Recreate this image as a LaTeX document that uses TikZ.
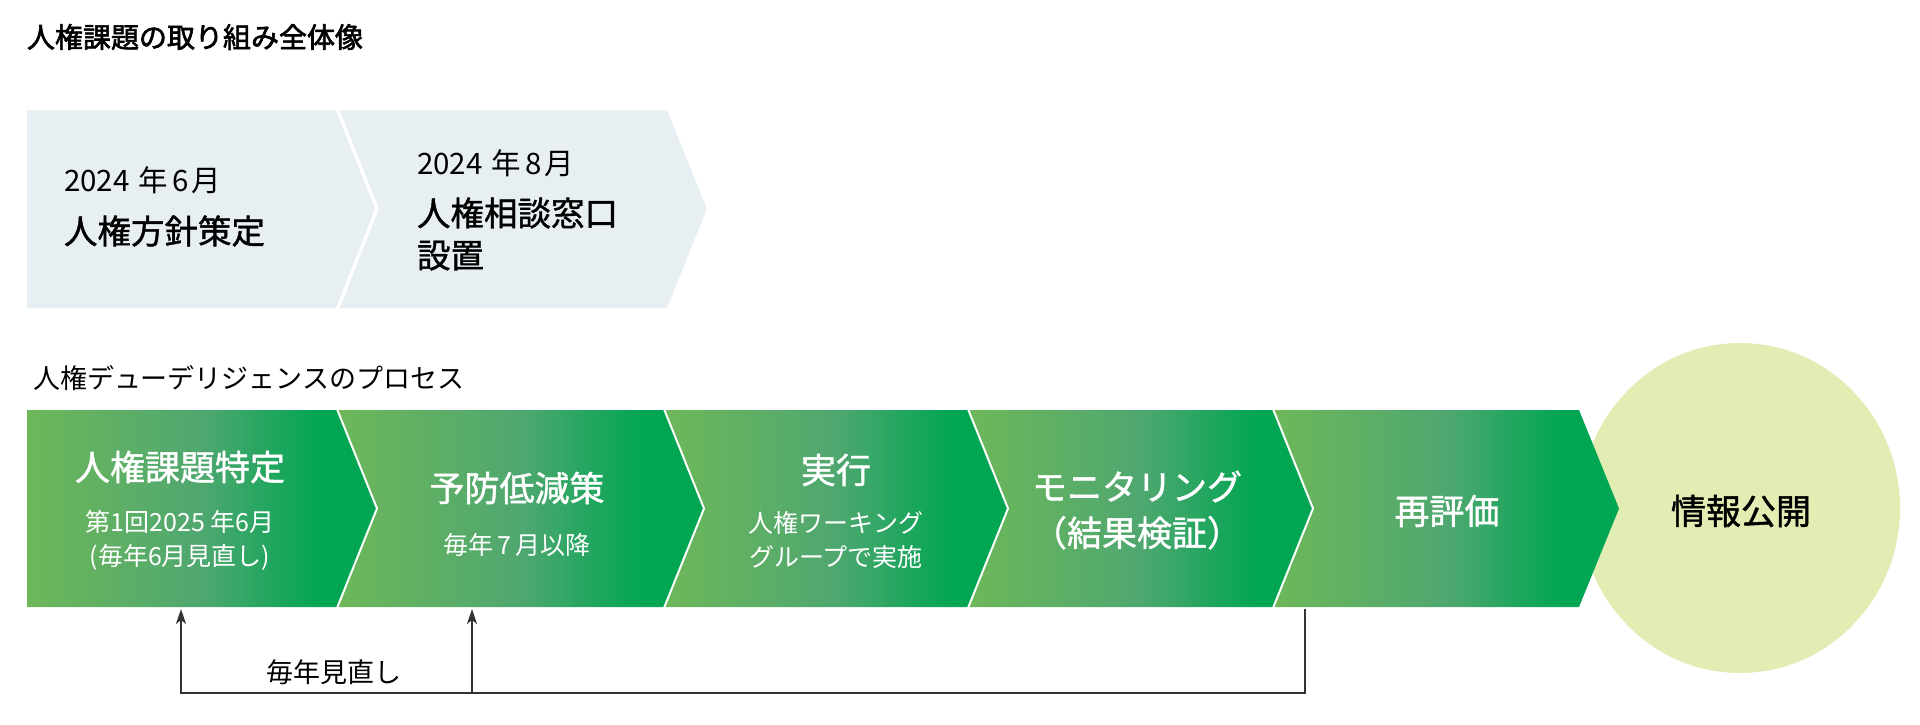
\documentclass[tikz,border=0pt]{standalone}
\usepackage{fontspec}
\setmainfont{Noto Sans CJK JP}
\newfontfamily\jpmed[FakeBold=1.2]{Noto Sans CJK JP}
\newfontfamily\jpbold[FakeBold=2.2]{Noto Sans CJK JP}
\usetikzlibrary{arrows.meta}
\definecolor{boxgray}{HTML}{E8EFF3}
\definecolor{circfill}{HTML}{E2EDB3}
\definecolor{lineg}{HTML}{333333}
\pgfdeclarehorizontalshading{chevshade}{100bp}{rgb(0bp)=(0.43,0.72,0.35); rgb(25bp)=(0.43,0.72,0.35); rgb(50bp)=(0.31,0.655,0.44); rgb(67bp)=(0,0.65,0.32); rgb(100bp)=(0,0.65,0.32)}
\begin{document}
\begin{tikzpicture}[x=1pt,y=-1pt,
  every node/.style={inner sep=0pt, outer sep=0pt},
  headtxt/.style={anchor=west, font=\jpbold\fontsize{28}{32}\selectfont},
  lbltxt/.style={anchor=west, font=\fontsize{27}{32}\selectfont},
  datetxt/.style={anchor=west, font=\fontsize{29.5}{32}\selectfont},
  boxtitle/.style={anchor=west, align=left, font=\jpmed\fontsize{33.5}{42}\selectfont},
  ctitle/.style={text=white, align=center, font=\jpmed\fontsize{35}{46}\selectfont},
  csub/.style={text=white, align=center, font=\fontsize{25}{34}\selectfont},
  chev/.style={shading=chevshade},
  sep/.style={draw=white, line width=2pt},
  fb/.style={draw=lineg, line width=1.4pt},
  fbarrow/.style={fb, -{Stealth[length=15pt,width=10pt,inset=4pt]}}
]
\useasboundingbox (0,0) rectangle (1920,724);

% title
\node[headtxt] (title) at (27,37) {人権課題の取り組み全体像};

% top boxes
\fill[boxgray] (27,110) -- (337,110) -- (377,209) -- (337,308) -- (27,308) -- cycle;
\fill[boxgray] (337,110) -- (667,110) -- (707,209) -- (667,308) -- (337,308) -- (377,209) -- cycle;
\draw[draw=white, line width=3.5pt] (337,108) -- (377,209) -- (337,310);

\node[datetxt] (d1) at (64,180) {2024\hspace{0.3em}年\hspace{0.15em}6\hspace{0.1em}月};
\node[boxtitle] (b1) at (64,231) {人権方針策定};
\node[datetxt] (d2) at (417,163) {2024\hspace{0.3em}年\hspace{0.15em}8\hspace{0.1em}月};
\node[boxtitle] (b2) at (417,234) {人権相談窓口\\設置};

% process label
\node[lbltxt] (proc) at (33,378) {人権デューデリジェンスのプロセス};

% circle
\fill[circfill] (1740,508) ellipse [x radius=160, y radius=165];

% chevrons
\shade[chev] (27,410) -- (337,410) -- (377,508.5) -- (337,607) -- (27,607) -- cycle;
\shade[chev] (337,410) -- (664,410) -- (704,508.5) -- (664,607) -- (337,607) -- (377,508.5) -- cycle;
\shade[chev] (664,410) -- (968,410) -- (1008,508.5) -- (968,607) -- (664,607) -- (704,508.5) -- cycle;
\shade[chev] (968,410) -- (1273,410) -- (1313,508.5) -- (1273,607) -- (968,607) -- (1008,508.5) -- cycle;
\shade[chev] (1273,410) -- (1579,410) -- (1619,508.5) -- (1579,607) -- (1273,607) -- (1313,508.5) -- cycle;
\draw[sep] (337,409) -- (377,508.5) -- (337,608);
\draw[sep] (664,409) -- (704,508.5) -- (664,608);
\draw[sep] (968,409) -- (1008,508.5) -- (968,608);
\draw[sep] (1273,409) -- (1313,508.5) -- (1273,608);

% chevron texts
\node[ctitle] (t1) at (180,467) {人権課題特定};
\node[csub] (s1) at (180,540) {第1回2025\hspace{0.2em}年6月\\(毎年6月見直し)};
\node[ctitle] (t2) at (517,488) {予防低減策};
\node[csub] (s2) at (517,545) {毎年\hspace{0.15em}7\hspace{0.15em}月以降};
\node[ctitle] (t3) at (836,470) {実行};
\node[csub] (s3) at (836,540) {人権ワーキング\\グループで実施};
\node[ctitle] (t4) at (1137,510) {モニタリング\\（結果検証）};
\node[ctitle] (t5) at (1447,511) {再評価};
\node[ctitle, text=black] (t6) at (1741,511) {情報公開};

% feedback loop
\coordinate (c1b) at (181,609);
\coordinate (c2b) at (472,609);
\coordinate (c5b) at (1305,609);
\coordinate (loopR) at (1305,693);
\coordinate (loopL) at (181,693);
\coordinate (branch) at (472,693);
\draw[fbarrow] (c5b) -- (loopR) -- (loopL) -- (c1b);
\draw[fbarrow] (branch) -- (c2b);
\node[font=\fontsize{27}{32}\selectfont] (fbl) at (334,672) {毎年見直し};
\end{tikzpicture}
\end{document}
